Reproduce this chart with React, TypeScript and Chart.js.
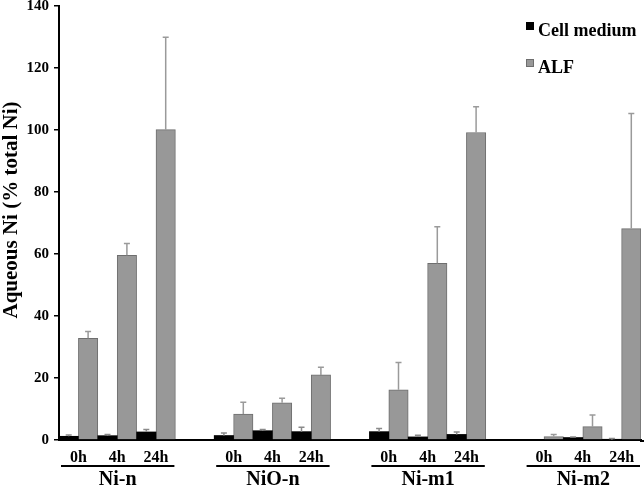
import { useEffect, useRef } from 'react';
import { Chart, registerables } from 'chart.js';

Chart.register(...registerables);

const groups = ['Ni-n', 'NiO-n', 'Ni-m1', 'Ni-m2'];
const times = ['0h', '4h', '24h'];

// values per group/time, order: Ni-n(0h,4h,24h), NiO-n(...), Ni-m1(...), Ni-m2(...)
const cellMedium = [1.2, 1.4, 2.6, 1.45, 3.0, 2.7, 2.7, 1.0, 1.8, 0, 0.8, 0.1];
const cellMediumErr = [0.4, 0.4, 0.8, 0.8, 0.4, 1.4, 1.0, 0.5, 0.8, 0, 0.2, 0.4];
const alf = [32.8, 59.6, 100.1, 8.4, 12.0, 21.0, 16.2, 57.0, 99.2, 1.1, 4.3, 68.2];
const alfErr = [2.2, 3.8, 29.8, 3.8, 1.5, 2.5, 8.8, 11.8, 8.3, 0.7, 3.8, 37.1];

const yMin = 0;
const yMax = 140;
const yStep = 20;
const yTitle = 'Aqueous Ni (% total Ni)';

const SERIF = "'Liberation Serif', 'Times New Roman', serif";

function spread(values: number[]): (number | null)[] {
  const out: (number | null)[] = [];
  groups.forEach((_, gi) => {
    times.forEach((_, ti) => out.push(values[gi * times.length + ti]));
    if (gi < groups.length - 1) out.push(null);
  });
  return out;
}

function buildLabels(): string[] {
  const out: string[] = [];
  groups.forEach((_, gi) => {
    times.forEach((t) => out.push(t));
    if (gi < groups.length - 1) out.push('');
  });
  return out;
}

const decorPlugin = {
  id: 'decor',
  afterDatasetsDraw(chart: any) {
    const ctx = chart.ctx;
    const y = chart.scales.y;
    chart.data.datasets.forEach((ds: any, di: number) => {
      const meta = chart.getDatasetMeta(di);
      meta.data.forEach((el: any, i: number) => {
        const v = ds.data[i];
        const e = ds.errors[i];
        if (v == null || !e) return;
        const yBar = y.getPixelForValue(v);
        const yTop = y.getPixelForValue(v + e);
        ctx.save();
        ctx.strokeStyle = ds.errorColor;
        ctx.lineWidth = 1.5;
        ctx.beginPath();
        ctx.moveTo(el.x, yBar);
        ctx.lineTo(el.x, yTop);
        ctx.moveTo(el.x - 3, yTop);
        ctx.lineTo(el.x + 3, yTop);
        ctx.stroke();
        ctx.restore();
      });
    });
  },
  afterDraw(chart: any) {
    const ctx = chart.ctx;
    const x = chart.scales.x;
    const area = chart.chartArea;
    ctx.save();
    // extend baseline to the right edge
    ctx.strokeStyle = '#000';
    ctx.lineWidth = 2;
    ctx.beginPath();
    ctx.moveTo(area.right - 1, area.bottom + 1);
    ctx.lineTo(chart.width, area.bottom + 1);
    ctx.stroke();
    // group labels with underline
    const w = x.getPixelForValue(1) - x.getPixelForValue(0);
    groups.forEach((g, gi) => {
      const first = gi * (times.length + 1);
      const last = first + times.length - 1;
      const left = x.getPixelForValue(first) - w / 2 + 2;
      const right = x.getPixelForValue(last) + w / 2 - 1;
      ctx.strokeStyle = '#000';
      ctx.lineWidth = 2;
      ctx.beginPath();
      ctx.moveTo(left, area.bottom + 26);
      ctx.lineTo(right, area.bottom + 26);
      ctx.stroke();
      ctx.fillStyle = '#000';
      ctx.font = `bold 20px ${SERIF}`;
      ctx.textAlign = 'center';
      ctx.textBaseline = 'alphabetic';
      ctx.fillText(g, (left + right) / 2, area.bottom + 45);
    });
    // y title
    ctx.save();
    ctx.translate(17, 210);
    ctx.rotate(-Math.PI / 2);
    ctx.font = `bold 21px ${SERIF}`;
    ctx.textAlign = 'center';
    ctx.textBaseline = 'alphabetic';
    ctx.fillStyle = '#000';
    ctx.fillText(yTitle, 0, 0);
    ctx.restore();
    // legend
    const lx = 526;
    const rows = [22, 59];
    chart.data.datasets.forEach((ds: any, di: number) => {
      const by = rows[di];
      ctx.fillStyle = ds.backgroundColor;
      ctx.fillRect(lx, by, 8, 8);
      if (ds.borderWidth) {
        ctx.strokeStyle = ds.borderColor;
        ctx.lineWidth = 1;
        ctx.strokeRect(lx + 0.5, by + 0.5, 7, 7);
      }
      ctx.fillStyle = '#000';
      ctx.font = `bold 18px ${SERIF}`;
      ctx.textAlign = 'left';
      ctx.textBaseline = 'alphabetic';
      ctx.fillText(ds.label, lx + 12, by + 14);
    });
    ctx.restore();
  },
};

export default function App() {
  const ref = useRef<HTMLCanvasElement | null>(null);

  useEffect(() => {
    if (!ref.current) return;
    const chart = new Chart(ref.current, {
      type: 'bar',
      data: {
        labels: buildLabels(),
        datasets: [
          {
            label: 'Cell medium',
            data: spread(cellMedium),
            errors: spread(cellMediumErr),
            errorColor: '#8a8a8a',
            backgroundColor: '#000000',
            borderWidth: 0,
            categoryPercentage: 1,
            barPercentage: 1,
          } as any,
          {
            label: 'ALF',
            data: spread(alf),
            errors: spread(alfErr),
            errorColor: '#9a9a9a',
            backgroundColor: '#989898',
            borderColor: '#6e6e6e',
            borderWidth: 1,
            categoryPercentage: 1,
            barPercentage: 1,
          } as any,
        ],
      },
      options: {
        animation: false,
        responsive: false,
        devicePixelRatio: 1,
        layout: { padding: { top: 6, right: 3, bottom: 0, left: 0 } },
        plugins: {
          legend: { display: false },
          tooltip: { enabled: false },
        },
        scales: {
          x: {
            grid: { display: false, drawTicks: false },
            border: { display: true, color: '#000', width: 2 },
            ticks: {
              autoSkip: false,
              maxRotation: 0,
              padding: 8,
              color: '#000',
              font: { family: SERIF, size: 16, weight: 'bold' },
            },
            afterFit: (s: any) => {
              s.height = 46;
              s.paddingLeft = 0;
              s.paddingRight = 0;
            },
          },
          y: {
            min: yMin,
            max: yMax,
            grid: {
              display: true,
              drawOnChartArea: false,
              drawTicks: true,
              tickLength: 5,
              color: '#000',
              lineWidth: 1.5,
            },
            border: { display: true, color: '#000', width: 2 },
            ticks: {
              stepSize: yStep,
              padding: 5,
              color: '#000',
              font: { family: SERIF, size: 15, weight: 'bold' },
            },
            afterFit: (s: any) => {
              s.width = 59;
              s.paddingTop = 0;
              s.paddingBottom = 0;
            },
          },
        },
      },
      plugins: [decorPlugin],
    });
    return () => chart.destroy();
  }, []);

  return (
    <div style={{ position: 'absolute', left: 0, top: 0, width: 644, height: 486, background: '#fff' }}>
      <canvas ref={ref} width={644} height={486} style={{ display: 'block' }} />
    </div>
  );
}
